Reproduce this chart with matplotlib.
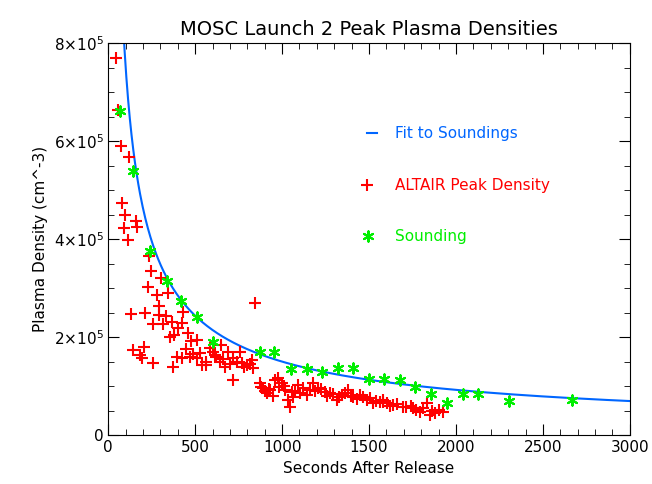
import numpy as np
import matplotlib
matplotlib.use("Agg")
import matplotlib.pyplot as plt
from matplotlib.ticker import MultipleLocator, FuncFormatter

# Sounding points (seconds, cm^-3)
snd_t = [69, 144, 241, 339, 420, 511, 603, 874, 954, 1052, 1143, 1230, 1322, 1408,
         1500, 1586, 1678, 1764, 1856, 1948, 2040, 2126, 2305, 2667]
snd_n = [6.61e5, 5.39e5, 3.76e5, 3.14e5, 2.73e5, 2.41e5, 1.90e5, 1.69e5, 1.69e5, 1.35e5,
         1.35e5, 1.29e5, 1.37e5, 1.37e5, 1.14e5, 1.14e5, 1.12e5, 0.98e5, 0.84e5, 0.65e5,
         0.84e5, 0.84e5, 0.70e5, 0.71e5]

# ALTAIR peak density
alt_t = [46, 57, 75, 121, 80, 98, 92, 115, 161, 167, 236, 247, 230, 282, 293, 305, 345,
         132, 213, 259, 316, 333, 368, 356, 402, 425, 431, 460, 477, 511, 845,
         144, 184, 207, 195, 259, 374, 397, 425, 471, 511, 540, 563, 529, 586, 615, 649,
         672, 690, 718, 718, 759, 770, 799, 828, 833,
         874, 891, 914, 931, 960, 977, 1000, 1017, 1034, 1046, 1063, 1092, 1121, 1144,
         1178, 1207, 1247, 1276, 1316, 1345, 1379, 1408, 1448, 1489, 1523, 1563, 1603,
         1638, 1580, 1695, 1753, 1793, 1833, 1850, 1879, 1925,
         880, 900, 925, 945, 985, 1010, 1055, 1075, 1105, 1160, 1190, 1225, 1260, 1295,
         1330, 1360, 1395, 1430, 1465, 1505, 1540, 1580, 1620, 1660, 1710, 1740, 1770,
         1810, 1860, 1900, 620, 640, 660, 700, 740, 780, 815, 290, 380, 445, 490, 560, 600]
alt_n = [7.69e5, 6.63e5, 5.90e5, 5.67e5, 4.73e5, 4.49e5, 4.22e5, 3.98e5, 4.37e5, 4.25e5,
         3.65e5, 3.35e5, 3.02e5, 2.86e5, 2.63e5, 3.20e5, 2.90e5,
         2.47e5, 2.49e5, 2.27e5, 2.27e5, 2.43e5, 2.31e5, 2.00e5, 2.18e5, 2.29e5, 2.51e5,
         2.08e5, 1.92e5, 1.94e5, 2.69e5,
         1.73e5, 1.63e5, 1.80e5, 1.57e5, 1.47e5, 1.39e5, 1.59e5, 1.57e5, 1.59e5, 1.57e5,
         1.43e5, 1.43e5, 1.67e5, 1.78e5, 1.63e5, 1.84e5,
         1.39e5, 1.69e5, 1.57e5, 1.12e5, 1.69e5, 1.47e5, 1.43e5, 1.53e5, 1.37e5,
         1.06e5, 0.96e5, 0.86e5, 0.92e5, 1.12e5, 1.16e5, 1.06e5, 0.92e5, 0.71e5, 0.57e5,
         0.78e5, 1.02e5, 0.96e5, 0.82e5, 1.06e5, 0.96e5, 0.88e5, 0.86e5, 0.71e5, 0.82e5,
         0.92e5, 0.78e5, 0.82e5, 0.71e5, 0.65e5, 0.67e5, 0.65e5, 0.61e5, 0.67e5, 0.57e5,
         0.55e5, 0.47e5, 0.65e5, 0.41e5, 0.45e5, 0.47e5,
         0.98e5, 0.90e5, 0.95e5, 0.80e5, 0.98e5, 1.00e5, 0.88e5, 0.90e5, 0.86e5, 0.92e5,
         0.90e5, 0.95e5, 0.80e5, 0.84e5, 0.78e5, 0.86e5, 0.80e5, 0.74e5, 0.78e5, 0.76e5,
         0.70e5, 0.72e5, 0.60e5, 0.64e5, 0.58e5, 0.60e5, 0.52e5, 0.56e5, 0.50e5, 0.52e5,
         1.60e5, 1.50e5, 1.55e5, 1.45e5, 1.50e5, 1.40e5, 1.45e5, 2.45e5, 2.05e5, 1.75e5,
         1.65e5, 1.50e5, 1.70e5]

# power-law fit to soundings
fit_a = 1.5e5 * 1000 ** 0.7
fit_b = 0.7

fig = plt.figure(figsize=(6.52, 4.84), dpi=100)
ax = fig.add_axes([0.166, 0.101, 0.8, 0.81])

tf = np.linspace(40, 3000, 600)
ax.plot(tf, fit_a * tf ** -fit_b, color='#0066ff', lw=1.5)
ax.scatter(alt_t, alt_n, marker='+', s=70, color='red', linewidths=1.5, zorder=3)
ax.scatter(snd_t, snd_n, marker=(6, 2, 0), s=55, color='#00ee00', linewidths=1.5, zorder=4)

# legend drawn IDL-style inside plot
ax.plot([1490, 1545], [6.16e5, 6.16e5], color='#0066ff', lw=1.5)
ax.text(1650, 6.16e5, "Fit to Soundings", color='#0066ff', fontsize=11, va='center')
ax.scatter([1490], [5.1e5], marker='+', s=70, color='red', linewidths=1.5)
ax.text(1650, 5.1e5, "ALTAIR Peak Density", color='red', fontsize=11, va='center')
ax.scatter([1495], [4.06e5], marker=(6, 2, 0), s=55, color='#00ee00', linewidths=1.5)
ax.text(1650, 4.06e5, "Sounding", color='#00ee00', fontsize=11, va='center')

ax.set_xlim(0, 3000)
ax.set_ylim(0, 8e5)
ax.xaxis.set_major_locator(MultipleLocator(500))
ax.xaxis.set_minor_locator(MultipleLocator(100))
ax.yaxis.set_major_locator(MultipleLocator(2e5))
ax.yaxis.set_minor_locator(MultipleLocator(5e4))

def yfmt(v, pos):
    if v == 0:
        return "0"
    return r"$%d{\times}10^5$" % round(v / 1e5)
ax.yaxis.set_major_formatter(FuncFormatter(yfmt))
ax.tick_params(which='both', direction='in', top=True, right=True, labelsize=11)
ax.tick_params(which='major', length=8)
ax.tick_params(which='minor', length=4)
ax.set_xlabel("Seconds After Release", fontsize=11)
ax.set_ylabel("Plasma Density (cm^-3)", fontsize=11)
ax.set_title("MOSC Launch 2 Peak Plasma Densities", fontsize=14)

fig.savefig("out.png")
